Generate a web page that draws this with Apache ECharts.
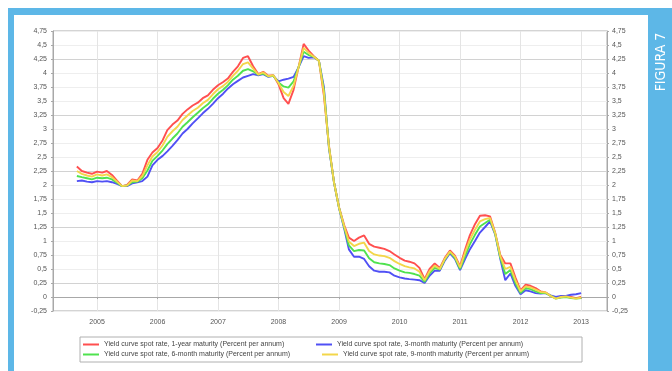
<!DOCTYPE html>
<html>
<head>
<meta charset="utf-8">
<script src="https://cdn.jsdelivr.net/npm/echarts@6/dist/echarts.min.js"></script>
<style>
  html, body { margin: 0; padding: 0; background: #ffffff; }
  #chart { width: 672px; height: 371px; }
</style>
</head>
<body>
<div id="chart"></div>
<script>
// Euro area yield curve spot rates, monthly readings, Sep 2004 - Jan 2013 (percent per annum)
const oneYear = [
  2.33, 2.25, 2.22, 2.20, 2.24, 2.22, 2.25, 2.18, 2.08, 1.98, 2.00, 2.10, 2.08, 2.20, 2.45, 2.58,
  2.66, 2.80, 2.98, 3.08, 3.15, 3.27, 3.35, 3.42, 3.47, 3.55, 3.60, 3.70,
  3.78, 3.84, 3.90, 4.02, 4.12, 4.27, 4.30, 4.12, 3.98, 4.02, 3.95, 3.96,
  3.80, 3.55, 3.45, 3.70, 4.10, 4.52, 4.40, 4.30, 4.22, 3.60, 2.70, 2.05,
  1.60, 1.28, 1.06, 1.00, 1.06, 1.10, 0.95, 0.90, 0.88, 0.86, 0.82, 0.76,
  0.70, 0.65, 0.63, 0.60, 0.52, 0.32, 0.50, 0.60, 0.52, 0.70, 0.83, 0.74,
  0.55, 0.85, 1.10, 1.30, 1.45, 1.46, 1.44, 1.15, 0.75, 0.60, 0.60, 0.35,
  0.12, 0.22, 0.20, 0.16, 0.10, 0.08, 0.02, -0.02, 0.00, 0.02, 0.00, -0.02,
  0.00
];
const threeMonth = [
  2.07, 2.08, 2.06, 2.05, 2.07, 2.06, 2.07, 2.05, 2.02, 1.98, 1.98, 2.03, 2.05, 2.07, 2.15, 2.35,
  2.45, 2.52, 2.60, 2.70, 2.80, 2.92, 3.00, 3.10, 3.19, 3.28, 3.36, 3.45,
  3.55, 3.63, 3.72, 3.80, 3.86, 3.92, 3.95, 3.98, 3.96, 3.98, 3.93, 3.95,
  3.85, 3.88, 3.90, 3.93, 4.10, 4.30, 4.27, 4.28, 4.22, 3.75, 2.65, 2.05,
  1.58, 1.22, 0.85, 0.72, 0.72, 0.68, 0.55, 0.47, 0.45, 0.45, 0.44, 0.38,
  0.35, 0.33, 0.32, 0.31, 0.30, 0.25, 0.38, 0.47, 0.47, 0.65, 0.78, 0.68,
  0.48, 0.68, 0.85, 1.00, 1.15, 1.25, 1.35, 1.12, 0.68, 0.30, 0.42, 0.20,
  0.05, 0.12, 0.10, 0.07, 0.06, 0.07, 0.03, 0.00, 0.02, 0.02, 0.04, 0.05,
  0.07
];
const sixMonth = [
  2.16, 2.14, 2.12, 2.10, 2.13, 2.12, 2.13, 2.10, 2.04, 1.98, 1.99, 2.05, 2.06, 2.12, 2.26, 2.43,
  2.52, 2.62, 2.73, 2.83, 2.92, 3.04, 3.12, 3.21, 3.29, 3.37, 3.44, 3.54,
  3.63, 3.70, 3.78, 3.88, 3.95, 4.04, 4.07, 4.03, 3.97, 3.99, 3.94, 3.95,
  3.83, 3.76, 3.74, 3.85, 4.10, 4.38, 4.32, 4.29, 4.22, 3.70, 2.67, 2.05,
  1.59, 1.24, 0.92, 0.82, 0.84, 0.83, 0.69, 0.62, 0.60, 0.59, 0.57, 0.51,
  0.47, 0.44, 0.43, 0.41, 0.38, 0.27, 0.42, 0.52, 0.49, 0.67, 0.80, 0.70,
  0.50, 0.74, 0.94, 1.11, 1.26, 1.32, 1.38, 1.13, 0.70, 0.41, 0.48, 0.25,
  0.07, 0.16, 0.14, 0.10, 0.07, 0.07, 0.02, -0.03, -0.01, 0.00, -0.02, -0.03,
  -0.02
];
const nineMonth = [
  2.25, 2.20, 2.17, 2.15, 2.19, 2.17, 2.19, 2.14, 2.06, 1.98, 1.99, 2.08, 2.07, 2.16, 2.35, 2.51,
  2.59, 2.71, 2.86, 2.96, 3.04, 3.16, 3.24, 3.32, 3.38, 3.46, 3.52, 3.62,
  3.71, 3.77, 3.84, 3.95, 4.04, 4.16, 4.19, 4.08, 3.97, 4.01, 3.94, 3.96,
  3.82, 3.66, 3.59, 3.77, 4.10, 4.45, 4.36, 4.29, 4.22, 3.65, 2.68, 2.05,
  1.59, 1.26, 0.99, 0.91, 0.95, 0.97, 0.82, 0.76, 0.74, 0.73, 0.70, 0.64,
  0.59, 0.55, 0.53, 0.51, 0.45, 0.30, 0.46, 0.56, 0.50, 0.68, 0.81, 0.72,
  0.53, 0.80, 1.02, 1.20, 1.35, 1.39, 1.41, 1.14, 0.73, 0.50, 0.54, 0.30,
  0.10, 0.19, 0.17, 0.13, 0.09, 0.08, 0.02, -0.03, 0.00, 0.01, -0.01, -0.03,
  -0.01
];

// Monthly observation dates, first of each month from September 2004
const dates = [];
for (let i = 0; i < oneYear.length; i++) {
  const y = 2004 + Math.floor((8 + i) / 12);
  const m = (8 + i) % 12 + 1;
  dates.push(y + '-' + String(m).padStart(2, '0') + '-01');
}

const seriesNames = [
  'Yield curve spot rate, 1-year maturity (Percent per annum)',
  'Yield curve spot rate, 3-month maturity (Percent per annum)',
  'Yield curve spot rate, 6-month maturity (Percent per annum)',
  'Yield curve spot rate, 9-month maturity (Percent per annum)'
];
const seriesValues = [oneYear, threeMonth, sixMonth, nineMonth];
const seriesColors = ['#ff4f4f', '#5050f5', '#4fe24f', '#f3d64a'];

const yMin = -0.25, yMax = 4.75, yStep = 0.25;
const fmt = v => String(Math.round(v * 100) / 100).replace('.', ',');

const chart = echarts.init(document.getElementById('chart'), null, { renderer: 'canvas' });

const pair = (vals) => vals.map((v, i) => [dates[i], v]);

const labelFont = { fontFamily: 'Liberation Sans, Arial, sans-serif', fontSize: 7, color: '#555555' };

const legendPos = [
  { left: 83, top: 341 },
  { left: 316, top: 341 },
  { left: 83, top: 351 },
  { left: 322, top: 351 }
];

const option = {
  backgroundColor: '#ffffff',
  animation: false,
  graphic: [
    { type: 'rect', z: -20, shape: { x: 8, y: 8, width: 664, height: 363 }, style: { fill: '#5db7e7' }, silent: true },
    { type: 'rect', z: -19, shape: { x: 14, y: 15, width: 634, height: 356 }, style: { fill: '#ffffff' }, silent: true },
    { type: 'rect', z: 5, shape: { x: 80, y: 337, width: 502, height: 25 }, style: { fill: 'none', stroke: '#b0b0b0', lineWidth: 1 }, silent: true },
    {
      type: 'text', z: 10, x: 661, y: 62, rotation: Math.PI / 2,
      style: {
        text: 'FIGURA 7', fill: '#ffffff',
        font: '14px "Liberation Sans Narrow", "DejaVu Sans Condensed", sans-serif',
        textAlign: 'center', textVerticalAlign: 'middle'
      }
    }
  ],
  grid: {
    left: 53, right: 65, top: 31, bottom: 60,
    show: true, borderColor: '#a8a8a8', borderWidth: 1, backgroundColor: 'transparent'
  },
  legend: seriesNames.map((n, i) => ({
    data: [n],
    left: legendPos[i].left, top: legendPos[i].top,
    padding: 0, itemWidth: 16, itemHeight: 2, icon: 'rect', itemGap: 4,
    textStyle: { fontFamily: 'Liberation Sans, Arial, sans-serif', fontSize: 7, color: '#444444', padding: [0, 0, 0, 0] },
    selectedMode: false
  })),
  xAxis: {
    type: 'time',
    min: new Date('2004-04-10T00:00:00').getTime(),
    max: new Date('2013-06-06T00:00:00').getTime(),
    minInterval: 365 * 86400000,
    maxInterval: 366 * 86400000,
    axisLine: { show: true, lineStyle: { color: '#a8a8a8' } },
    axisTick: { show: true, length: 2, lineStyle: { color: '#a8a8a8' } },
    axisLabel: Object.assign({ formatter: '{yyyy}', margin: 8, showMinLabel: false, showMaxLabel: false }, labelFont),
    splitLine: { show: true, lineStyle: { color: '#e4e4e4', width: 1 } }
  },
  yAxis: [
    {
      type: 'value', position: 'left', min: yMin, max: yMax, interval: yStep,
      axisLine: { show: true, lineStyle: { color: '#a8a8a8' } },
      axisTick: { show: true, length: 2, lineStyle: { color: '#a8a8a8' } },
      axisLabel: Object.assign({ formatter: fmt, margin: 6 }, labelFont),
      splitLine: { show: true, lineStyle: { color: ['#eeeeee', '#eeeeee', '#d2d2d2', '#eeeeee'], width: 1 } }
    },
    {
      type: 'value', position: 'right', min: yMin, max: yMax, interval: yStep,
      axisLine: { show: true, lineStyle: { color: '#a8a8a8' } },
      axisTick: { show: true, length: 2, lineStyle: { color: '#a8a8a8' } },
      axisLabel: Object.assign({ formatter: fmt, margin: 5 }, labelFont),
      splitLine: { show: false }
    }
  ],
  series: seriesNames.map((n, i) => ({
    name: n,
    type: 'line',
    data: pair(seriesValues[i]),
    showSymbol: false,
    color: seriesColors[i],
    lineStyle: { width: 1.9, color: seriesColors[i] },
    z: 3 + i
  }))
};

chart.setOption(option);
</script>
</body>
</html>
